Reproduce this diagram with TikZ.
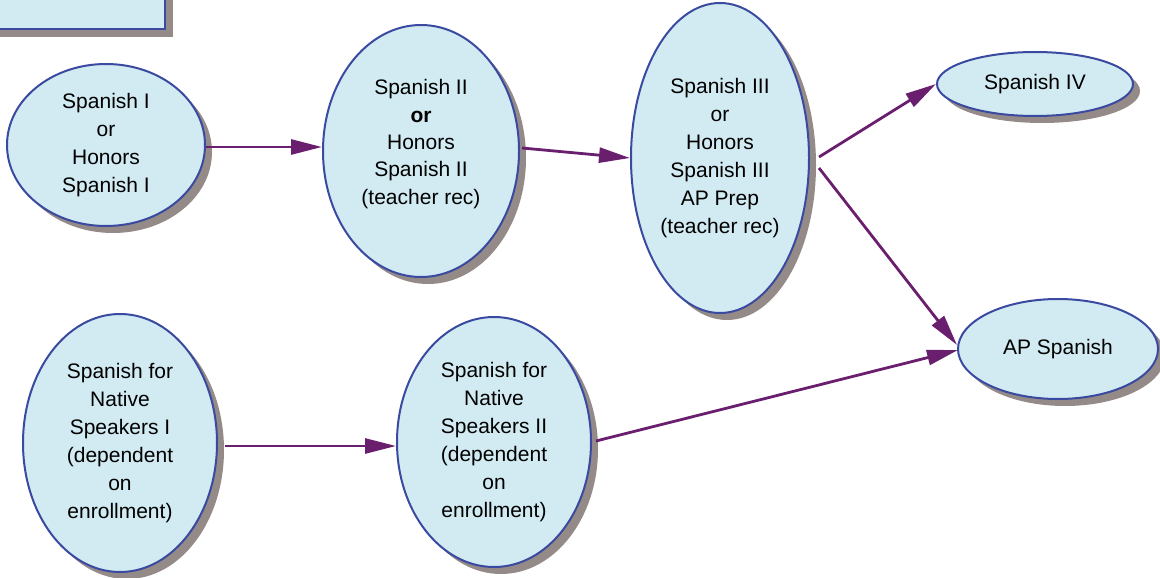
\documentclass[tikz,border=0pt]{standalone}
\usepackage{fontspec}
\setmainfont{Liberation Sans}
\usetikzlibrary{shapes.geometric,shadows,arrows.meta}
\definecolor{ellfill}{HTML}{D2EBF2}
\definecolor{ellline}{HTML}{3A4AA0}
\definecolor{shgray}{HTML}{948A88}
\definecolor{arrcol}{HTML}{6A1F6E}
\tikzset{
  course/.style={ellipse, draw=ellline, line width=2pt, fill=ellfill,
    inner sep=0pt, align=center, font=\fontsize{21}{28}\selectfont,
    drop shadow={shadow xshift=7pt, shadow yshift=-7pt, fill=shgray, opacity=1}},
  lbl/.style={align=center, font=\fontsize{21}{27.4}\selectfont, inner sep=0pt},
  arr/.style={draw=arrcol, line width=2.8pt, -{Triangle[length=31pt,width=15pt]}, shorten >=0pt}
}
\begin{document}
\begin{tikzpicture}[x=1pt,y=-1pt]
\useasboundingbox (0,0) rectangle (1160,578);
% top-left box (cut off)
\node (topbox) [draw=ellline, line width=2.2pt, fill=ellfill, rectangle, inner sep=0pt,
  minimum width=180pt, minimum height=44pt,
  drop shadow={shadow xshift=8pt, shadow yshift=-8pt, fill=shgray, opacity=1}] at (75,7) {};
\node (e1) [course, minimum width=198pt, minimum height=162pt] at (106,145)
  {Spanish I\\or\\Honors\\Spanish I};
\node (e2) [course, minimum width=196pt, minimum height=252pt] at (421,151) {};
\node (t2) [lbl] at (421,144) {Spanish II\\\textbf{or}\\Honors\\Spanish II\\(teacher rec)};
\node (e3) [course, minimum width=178pt, minimum height=310pt] at (720,158)
  {Spanish III\\or\\Honors\\Spanish III\\AP Prep\\(teacher rec)};
\node (e4) [course, minimum width=196pt, minimum height=64pt] at (1035,84) {Spanish IV};
\node (e5) [course, minimum width=200pt, minimum height=100pt] at (1058,349) {AP Spanish};
\node (e6) [course, minimum width=194pt, minimum height=258pt] at (120,443)
  {Spanish for\\Native\\Speakers I\\(dependent\\on\\enrollment)};
\node (e7) [course, minimum width=194pt, minimum height=250pt] at (494,442)
  {Spanish for\\Native\\Speakers II\\(dependent\\on\\enrollment)};
% connectors
\draw[arr] ([xshift=0pt,yshift=-2pt]e1.east) -- ([yshift=4pt]e2.west);
\draw[arr] ([xshift=2pt,yshift=3pt]e2.east) -- (e3.west);
\draw[arr] ([xshift=9pt,yshift=1pt]e3.east) -- (e4.west);
\draw[arr] ([xshift=9pt,yshift=-10pt]e3.east) -- ([yshift=4pt]e5.west);
\draw[arr] ([xshift=7pt,yshift=-3pt]e6.east) -- ([yshift=-4pt]e7.west);
\draw[arr] ([xshift=4pt,yshift=1pt]e7.east) -- ([xshift=1pt,yshift=-1pt]e5.west);
\end{tikzpicture}
\end{document}
